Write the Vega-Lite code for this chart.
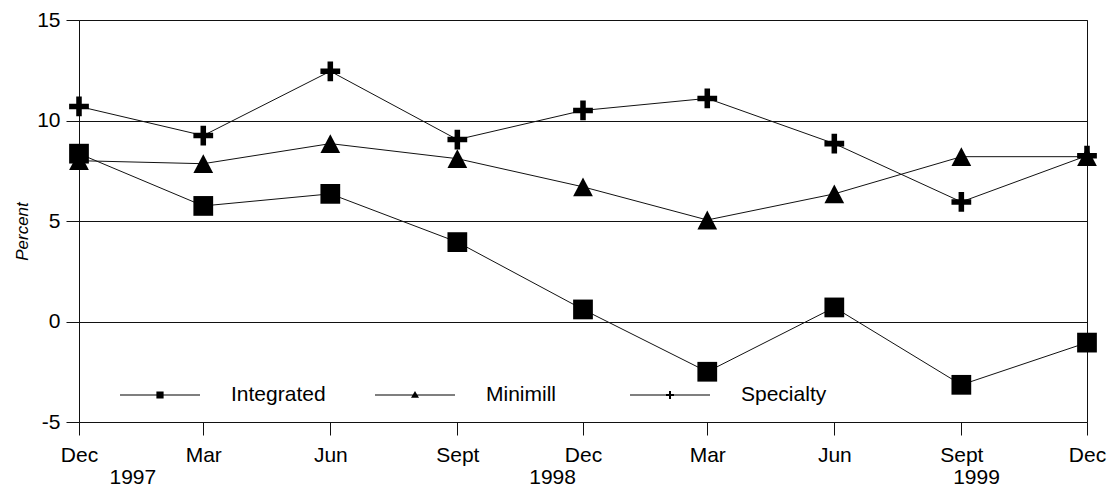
{
  "$schema": "https://vega.github.io/schema/vega-lite/v6.json",
  "width": 1008,
  "height": 402,
  "autosize": {"type": "none"},
  "padding": {"left": 79, "top": 20, "right": 20, "bottom": 67},
  "background": "white",
  "config": {
    "font": "Liberation Sans",
    "view": {"stroke": "#111", "strokeWidth": 1},
    "axis": {"labelColor": "black", "titleColor": "black", "tickColor": "#111", "gridColor": "#111", "gridOpacity": 1}
  },
  "datasets": {
    "main": [
      {"date": "1997-12-01", "series": "Integrated", "value": 8.35},
      {"date": "1998-03-01", "series": "Integrated", "value": 5.75},
      {"date": "1998-06-01", "series": "Integrated", "value": 6.35},
      {"date": "1998-09-01", "series": "Integrated", "value": 3.95},
      {"date": "1998-12-01", "series": "Integrated", "value": 0.6},
      {"date": "1999-03-01", "series": "Integrated", "value": -2.5},
      {"date": "1999-06-01", "series": "Integrated", "value": 0.7},
      {"date": "1999-09-01", "series": "Integrated", "value": -3.15},
      {"date": "1999-12-01", "series": "Integrated", "value": -1.05},
      {"date": "1997-12-01", "series": "Minimill", "value": 8.0},
      {"date": "1998-03-01", "series": "Minimill", "value": 7.85},
      {"date": "1998-06-01", "series": "Minimill", "value": 8.85},
      {"date": "1998-09-01", "series": "Minimill", "value": 8.1},
      {"date": "1998-12-01", "series": "Minimill", "value": 6.7},
      {"date": "1999-03-01", "series": "Minimill", "value": 5.05},
      {"date": "1999-06-01", "series": "Minimill", "value": 6.35},
      {"date": "1999-09-01", "series": "Minimill", "value": 8.2},
      {"date": "1999-12-01", "series": "Minimill", "value": 8.2},
      {"date": "1997-12-01", "series": "Specialty", "value": 10.7},
      {"date": "1998-03-01", "series": "Specialty", "value": 9.25},
      {"date": "1998-06-01", "series": "Specialty", "value": 12.45},
      {"date": "1998-09-01", "series": "Specialty", "value": 9.05},
      {"date": "1998-12-01", "series": "Specialty", "value": 10.5},
      {"date": "1999-03-01", "series": "Specialty", "value": 11.1},
      {"date": "1999-06-01", "series": "Specialty", "value": 8.85},
      {"date": "1999-09-01", "series": "Specialty", "value": 5.95},
      {"date": "1999-12-01", "series": "Specialty", "value": 8.25}
    ],
    "years": [
      {"year": "1997", "anchor": "1998-01-09"},
      {"year": "1998", "anchor": "1998-11-09"},
      {"year": "1999", "anchor": "1999-09-12"}
    ]
  },
  "layer": [
    {
      "data": {"name": "main"},
      "mark": {"type": "line", "color": "#111", "strokeWidth": 1},
      "encoding": {
        "x": {
          "field": "date",
          "type": "temporal",
          "scale": {"type": "utc", "nice": false, "domain": [{"year": 1997, "month": 12, "date": 1, "utc": true}, {"year": 1999, "month": 12, "date": 1, "utc": true}]},
          "axis": {
            "title": null,
            "grid": false,
            "domain": false,
            "values": [
              {"year": 1997, "month": 12, "date": 1, "utc": true},
              {"year": 1998, "month": 3, "date": 1, "utc": true},
              {"year": 1998, "month": 6, "date": 1, "utc": true},
              {"year": 1998, "month": 9, "date": 1, "utc": true},
              {"year": 1998, "month": 12, "date": 1, "utc": true},
              {"year": 1999, "month": 3, "date": 1, "utc": true},
              {"year": 1999, "month": 6, "date": 1, "utc": true},
              {"year": 1999, "month": 9, "date": 1, "utc": true},
              {"year": 1999, "month": 12, "date": 1, "utc": true}
            ],
            "labelExpr": "utcFormat(datum.value, '%b') == 'Sep' ? 'Sept' : utcFormat(datum.value, '%b')",
            "tickSize": 13,
            "labelPadding": 9,
            "labelFontSize": 21,
            "labelFlush": false,
            "labelOverlap": false
          }
        },
        "y": {
          "field": "value",
          "type": "quantitative",
          "scale": {"domain": [-5, 15], "nice": false, "zero": false},
          "axis": {
            "title": "Percent",
            "values": [-5, 0, 5, 10, 15],
            "labelExpr": "datum.value < 0 ? '-' + abs(datum.value) : datum.label",
            "grid": true,
            "domain": false,
            "tickSize": 13,
            "labelPadding": 6,
            "labelFontSize": 21,
            "titleFontSize": 17,
            "titleFontStyle": "italic",
            "titleFontWeight": "normal",
            "titleBaseline": "alphabetic",
            "titleAlign": "center",
            "titleAngle": -90,
            "titleX": -52,
            "titleY": 211
          }
        },
        "detail": {"field": "series"}
      }
    },
    {
      "data": {"name": "main"},
      "mark": {"type": "point", "filled": true, "color": "black", "opacity": 1, "size": 390},
      "encoding": {
        "x": {"field": "date", "type": "temporal"},
        "y": {"field": "value", "type": "quantitative"},
        "shape": {
          "field": "series",
          "type": "nominal",
          "scale": {"domain": ["Integrated", "Minimill", "Specialty"], "range": ["square", "M0,-0.95L1,0.95H-1Z", "M-1,-0.28H-0.28V-1H0.28V-0.28H1V0.28H0.28V1H-0.28V0.28H-1Z"]},
          "legend": null
        }
      }
    },
    {
      "data": {"name": "main"},
      "transform": [{"filter": "false"}],
      "mark": {"type": "point", "filled": true, "color": "black", "opacity": 1},
      "encoding": {
        "shape": {
          "field": "series",
          "type": "nominal",
          "scale": {"domain": ["Integrated", "Minimill", "Specialty"], "range": [
            "M-1,-0.0125H1V0.0125H-1Z M-0.09,-0.09H0.09V0.09H-0.09Z",
            "M-1,-0.0125H1V0.0125H-1Z M0,-0.1L0.1,0.07H-0.1Z",
            "M-1,-0.0125H1V0.0125H-1Z M-0.1,-0.025H-0.025V-0.1H0.025V-0.025H0.1V0.025H0.025V0.1H-0.025V0.025H-0.1Z"
          ]},
          "legend": {
            "title": null,
            "orient": "none",
            "direction": "horizontal",
            "columns": 3,
            "gridAlign": "all",
            "legendX": 41,
            "legendY": 335,
            "padding": 0,
            "symbolSize": 6400,
            "symbolFillColor": "black",
            "symbolStrokeWidth": 0,
            "labelFontSize": 21,
            "labelColor": "black",
            "labelOffset": 31,
            "columnPadding": 49,
            "labelLimit": 300
          }
        }
      }
    },
    {
      "data": {"name": "years"},
      "mark": {"type": "text", "fontSize": 21, "color": "black", "baseline": "alphabetic", "align": "center", "dy": 62},
      "encoding": {
        "x": {"field": "anchor", "type": "temporal"},
        "y": {"datum": -5, "type": "quantitative"},
        "text": {"field": "year", "type": "nominal"}
      }
    }
  ],
  "resolve": {"scale": {"shape": "independent"}, "legend": {"shape": "independent"}}
}
